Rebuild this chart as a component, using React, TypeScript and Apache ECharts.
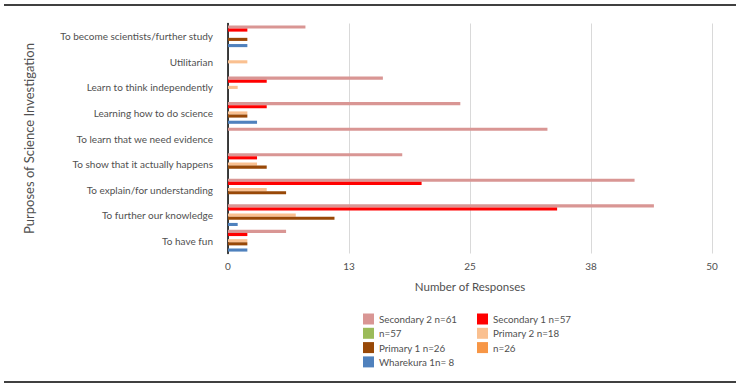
import React, { useEffect, useRef } from "react";
import * as echarts from "echarts";

const categories = [
  "To have fun",
  "To further our knowledge",
  "To explain/for understanding",
  "To show that it actually happens",
  "To learn that we need evidence",
  "Learning how to do science",
  "Learn to think independently",
  "Utilitarian",
  "To become scientists/further study",
];

const seriesNames = [
  "Secondary 2 n=61",
  "Secondary 1 n=57",
  "n=57",
  "Primary 2 n=18",
  "Primary 1 n=26",
  "n=26",
  "Wharekura 1n= 8",
];

const secondary2 = [6, 44, 42, 18, 33, 24, 16, 0, 8];
const secondary1 = [2, 34, 20, 3, 0, 4, 4, 0, 2];
const secondaryN57 = [0, 0, 0, 0, 0, 0, 0, 0, 0];
const primary2 = [2, 7, 4, 3, 0, 2, 1, 2, 0];
const primary1 = [2, 11, 6, 4, 0, 2, 0, 0, 2];
const primaryN26 = [0, 0, 0, 0, 0, 0, 0, 0, 0];
const wharekura = [2, 1, 0, 0, 0, 3, 0, 0, 2];

const seriesValues = [secondary2, secondary1, secondaryN57, primary2, primary1, primaryN26, wharekura];
const colors = ["#D99694", "#FF0000", "#9BBB59", "#FAC090", "#984807", "#F79646", "#4F81BD"];

const xTicks = [0, 12.5, 25, 37.5, 50];

const FONT = "Lato, 'Noto Sans', sans-serif";
const TEXT = "#505050";

export default function App() {
  const ref = useRef<HTMLDivElement>(null);
  useEffect(() => {
    if (!ref.current) return;
    const chart = echarts.init(ref.current, undefined, { renderer: "svg" });
    const legendText = { color: TEXT, fontSize: 9.8, fontFamily: FONT };
    chart.setOption({
      animation: false,
      grid: { left: 228, right: 27, top: 23.5, bottom: 135.5, containLabel: false },
      xAxis: {
        type: "value",
        min: xTicks[0],
        max: xTicks[xTicks.length - 1],
        interval: 12.5,
        axisLine: { show: false },
        axisTick: { show: false },
        splitLine: { show: true, lineStyle: { color: "#D9D9D9", width: 1 } },
        axisLabel: {
          color: TEXT,
          fontSize: 10,
          fontFamily: FONT,
          margin: 7,
          formatter: (v: number) => String(Math.round(v)),
        },
        name: "Number of Responses",
        nameLocation: "middle",
        nameGap: 27,
        nameTextStyle: { color: TEXT, fontSize: 11.5, fontFamily: FONT },
      },
      yAxis: {
        type: "category",
        data: categories,
        axisLine: { show: true, lineStyle: { color: "#000000", width: 1.5 } },
        axisTick: { show: false },
        axisLabel: { color: TEXT, fontSize: 10, fontFamily: FONT, margin: 15 },
        name: "Purposes of Science Investigation",
        nameLocation: "middle",
        nameGap: 193,
        nameRotate: 90,
        nameTextStyle: { color: TEXT, fontSize: 13, fontFamily: FONT },
      },
      legend: [
        {
          orient: "vertical",
          left: 358,
          top: 308.5,
          itemWidth: 11,
          itemHeight: 11,
          itemGap: 3.3,
          icon: "rect",
          data: [seriesNames[0], seriesNames[2], seriesNames[4], seriesNames[6]],
          textStyle: legendText,
        },
        {
          orient: "vertical",
          left: 472,
          top: 308.5,
          itemWidth: 11,
          itemHeight: 11,
          itemGap: 3.3,
          icon: "rect",
          data: [seriesNames[1], seriesNames[3], seriesNames[5]],
          textStyle: legendText,
        },
      ],
      series: seriesNames.map((name, i) => ({
        name,
        type: "bar",
        data: seriesValues[i],
        barGap: "0%",
        barCategoryGap: "15%",
        itemStyle: { color: colors[i] },
      })),
      graphic: [
        { type: "line", shape: { x1: 4, y1: 5, x2: 736, y2: 5 }, style: { stroke: "#000", lineWidth: 1.3 } },
        { type: "line", shape: { x1: 4, y1: 382, x2: 736, y2: 382 }, style: { stroke: "#000", lineWidth: 1.3 } },
      ],
    });
    return () => chart.dispose();
  }, []);
  return (
    <div
      ref={ref}
      style={{ position: "fixed", left: 0, top: 0, width: 739, height: 389, background: "#fff" }}
    />
  );
}
